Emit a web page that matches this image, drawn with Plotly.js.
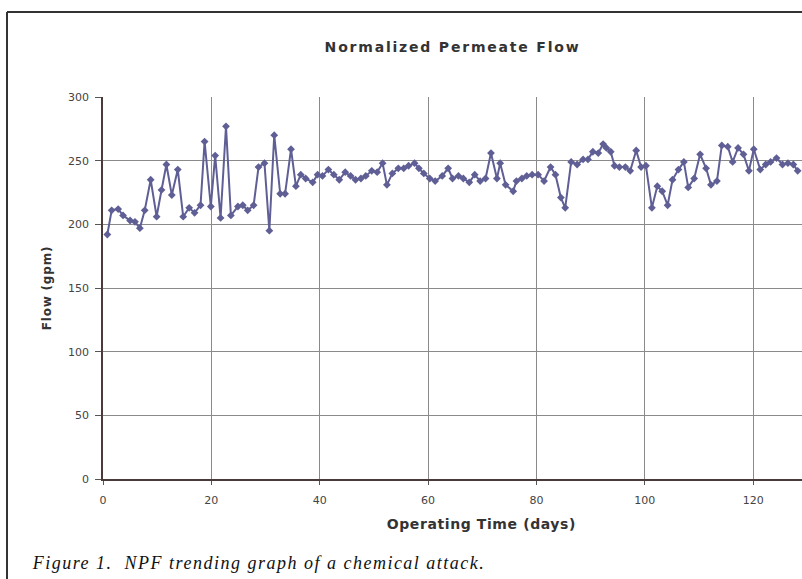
<!DOCTYPE html>
<html>
<head>
<meta charset="utf-8">
<script src="https://cdn.plot.ly/plotly-3.0.1.min.js"></script>
<style>
html,body{margin:0;padding:0;background:#fff;}
#chart{width:802px;height:579px;}
#chart .gtitle{letter-spacing:1.8px;}
#chart .ytitle{letter-spacing:0.8px;}
#chart .annotation-text{letter-spacing:1.5px;}
#chart .annotation[data-index="0"] .annotation-text{letter-spacing:0.6px;}
</style>
</head>
<body>
<div id="chart"></div>
<script>
// Operating time (days)
var days = [0.8,1.6,2.8,3.7,5.0,5.9,6.8,7.7,8.8,9.9,10.8,11.7,12.7,13.8,14.8,15.9,16.9,18.0,18.75,19.9,20.7,21.7,22.7,23.6,24.9,25.8,26.7,27.8,28.7,29.8,30.7,31.6,32.7,33.6,34.7,35.6,36.5,37.4,38.7,39.6,40.5,41.6,42.6,43.6,44.7,45.7,46.6,47.6,48.5,49.6,50.6,51.6,52.4,53.4,54.5,55.5,56.4,57.5,58.3,59.2,60.3,61.3,62.6,63.7,64.5,65.6,66.5,67.6,68.6,69.6,70.6,71.6,72.7,73.3,74.3,75.7,76.3,77.3,78.2,79.2,80.3,81.4,82.6,83.5,84.5,85.3,86.4,87.5,88.6,89.5,90.4,91.4,92.3,92.9,93.7,94.4,95.3,96.4,97.3,98.4,99.3,100.2,101.3,102.3,103.2,104.2,105.1,106.2,107.2,108.0,109.1,110.2,111.3,112.2,113.3,114.2,115.3,116.2,117.2,118.2,119.2,120.1,121.3,122.3,123.2,124.3,125.4,126.4,127.4,128.2];
// Normalized permeate flow (gpm)
var flow = [192,211,212,207,203,202,197,211,235,206,227,247,223,243,206,213,209,215,265,214,254,205,277,207,214,215,211,215,245,248,195,270,224,224,259,230,239,236,233,239,238,243,239,235,241,238,235,236,238,242,241,248,231,240,244,244,246,248,244,240,236,234,238,244,236,238,236,233,239,234,236,256,236,248,231,226,234,236,238,239,239,234,245,239,221,213,249,247,251,251,257,256,263,260,257,246,245,245,242,258,245,246,213,230,226,215,235,243,249,229,236,255,244,231,234,262,261,249,260,255,242,259,243,247,249,252,247,248,247,242];

var xTicks = [0,20,40,60,80,100,120];
var yTicks = [0,50,100,150,200,250,300];

var trace = {
  x: days, y: flow, type: 'scatter', mode: 'lines+markers',
  line: {color: '#5f5f96', width: 2},
  marker: {symbol: 'diamond', size: 6, color: '#5f5f96'},
  showlegend: false, hoverinfo: 'x+y'
};

var sans = 'DejaVu Sans, Arial, sans-serif';

var layout = {
  width: 802, height: 579,
  margin: {l: 103, r: 0, t: 97, b: 100},
  paper_bgcolor: '#ffffff', plot_bgcolor: '#ffffff',
  font: {family: sans, size: 11, color: '#333'},
  title: {text: '<b>Normalized Permeate Flow</b>', font: {family: sans, size: 14, color: '#333'}, x: 0.5, xref: 'paper', y: 1 - 47/579, yanchor: 'middle'},
  xaxis: {
    range: [0, 129], tickvals: xTicks, ticktext: xTicks.map(String),
    showgrid: true, gridcolor: '#8a8a8a', gridwidth: 1,
    zeroline: false, showline: true, linecolor: '#4a3a3a', linewidth: 1.5,
    ticks: 'outside', ticklen: 4, tickcolor: '#555', ticklabelstandoff: 6,
    tickfont: {family: sans, size: 11, color: '#444'}
  },
  yaxis: {
    range: [0, 300], tickvals: yTicks, ticktext: yTicks.map(String),
    showgrid: true, gridcolor: '#8a8a8a', gridwidth: 1,
    zeroline: false, showline: true, linecolor: '#4a3a3a', linewidth: 1.5,
    ticks: 'outside', ticklen: 6, tickcolor: '#555', ticklabelstandoff: 4,
    tickfont: {family: sans, size: 11, color: '#444'},
    title: {text: '<b>Flow (gpm)</b>', font: {family: sans, size: 12, color: '#333'}, standoff: 14}
  },
  shapes: [
    {type: 'line', xref: 'paper', yref: 'paper', x0: (7-103)/699, x1: (7-103)/699, y0: (479-12)/382, y1: -100/382, line: {color: '#333', width: 2}},
    {type: 'line', xref: 'paper', yref: 'paper', x0: (7-103)/699, x1: 1.01, y0: (479-12)/382, y1: (479-12)/382, line: {color: '#333', width: 2}}
  ],
  annotations: [
    {text: '<b>Operating Time (days)</b>', xref: 'paper', yref: 'paper',
     x: (481-103)/699, y: (479-524)/382, xanchor: 'center', yanchor: 'middle', showarrow: false,
     font: {family: sans, size: 14, color: '#333'}},
    {text: 'Figure 1.  NPF trending graph of a chemical attack.', xref: 'paper', yref: 'paper',
     x: (258-103)/699, y: (479-563)/382, xanchor: 'center', yanchor: 'middle', showarrow: false,
     font: {family: 'Liberation Serif, Times New Roman, serif', size: 18, color: '#111', style: 'italic'}}
  ]
};

Plotly.newPlot('chart', [trace], layout, {displayModeBar: false});
</script>
</body>
</html>
